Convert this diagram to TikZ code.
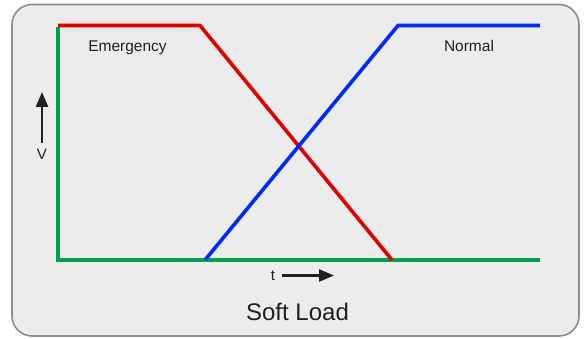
\documentclass[tikz,border=0pt]{standalone}
\usepackage{fontspec}
\setmainfont{Liberation Sans}
\usetikzlibrary{arrows.meta}
\definecolor{boxfill}{HTML}{ECECEC}
\definecolor{boxline}{HTML}{8C8C8C}
\definecolor{ink}{HTML}{231F20}
\definecolor{gline}{HTML}{00A04E}
\definecolor{rline}{HTML}{E00000}
\definecolor{bline}{HTML}{0028FF}
\tikzset{
  curve/.style={line width=3.6pt, line join=miter},
  lbl/.style={text=ink, inner sep=0pt, anchor=base, font=\fontsize{15.5}{18}\selectfont},
  axisarrow/.style={draw=ink, line width=2.6pt, -{Triangle[length=15pt,width=12pt]}},
}
\begin{document}
\begin{tikzpicture}[x=1pt,y=-1pt]
\useasboundingbox (0,0) rectangle (584,339);
\draw[boxline, fill=boxfill, line width=1.6pt, rounded corners=20pt] (12,4.5) rectangle (579,336);
% curves
\draw[curve, gline] (58,27) -- (58,260) -- (540,260);
\draw[curve, rline] (58,25.5) -- (200,25.5) -- (392,260);
\draw[curve, bline] (205,260) -- (398,25.5) -- (540,25.5);
% labels
\node[lbl] (emg) at (127.5,52) {Emergency};
\node[lbl] (nrm) at (469,52) {Normal};
\node[lbl, font=\fontsize{24}{28}\selectfont] (title) at (297.5,320.5) {Soft Load};
\node[lbl, font=\fontsize{15}{18}\selectfont] (tlab) at (273,280.5) {t};
\node[lbl, font=\fontsize{15}{18}\selectfont] (vlab) at (42,160) {V};
% axis arrows
\coordinate (tA) at (282,275.5);
\coordinate (tB) at (334,275.5);
\coordinate (vA) at (42,143);
\coordinate (vB) at (42,92);
\draw[axisarrow] (tA) -- (tB);
\draw[axisarrow] (vA) -- (vB);
\end{tikzpicture}
\end{document}
